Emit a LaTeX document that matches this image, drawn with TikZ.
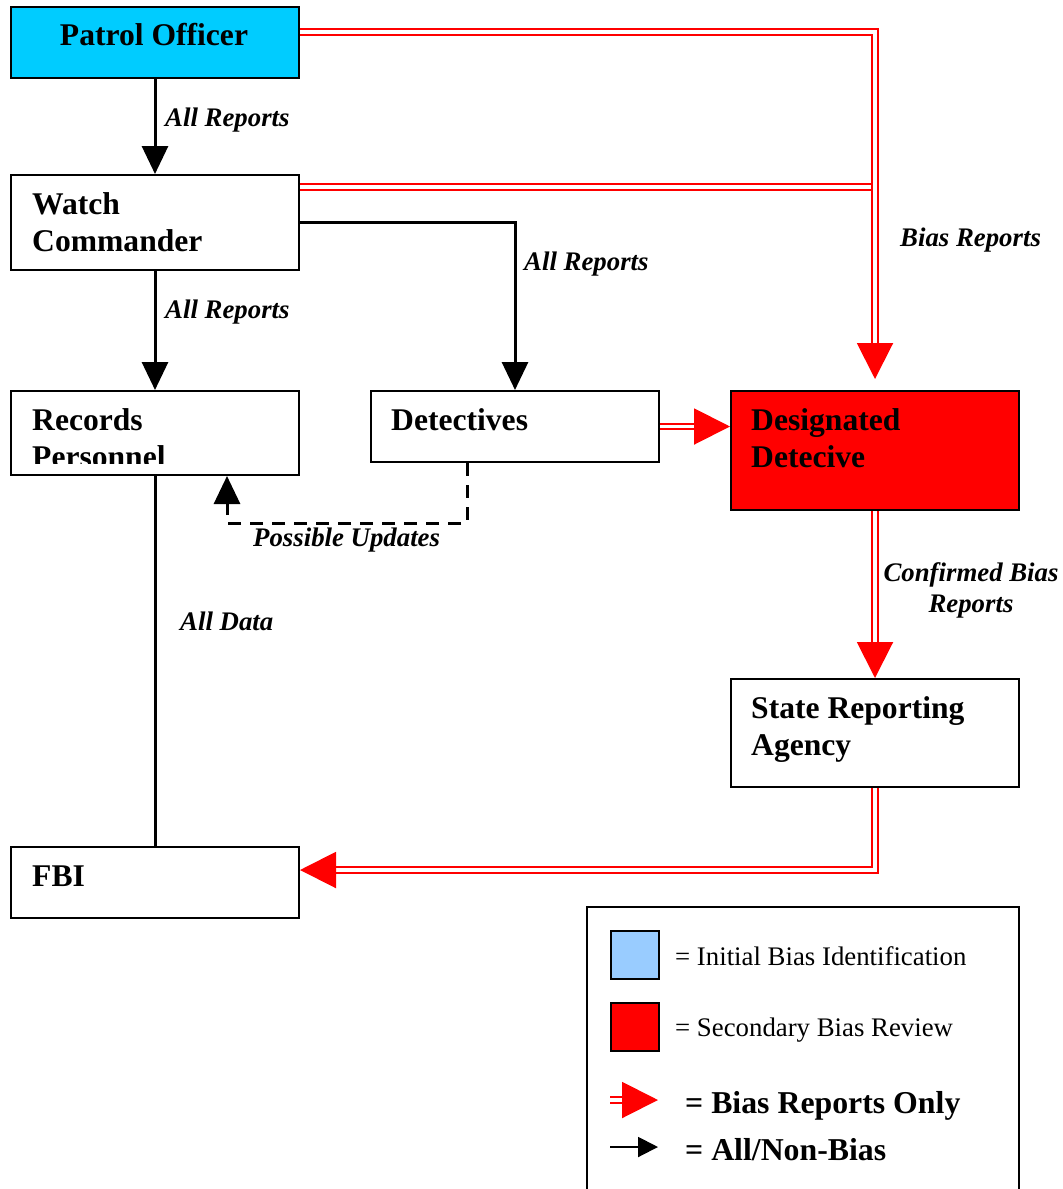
\documentclass[tikz,border=0pt]{standalone}
\usepackage{fontspec}
\setmainfont{Liberation Serif}
\usetikzlibrary{arrows.meta}
\definecolor{patrolcyan}{HTML}{00CCFF}
\definecolor{legendblue}{HTML}{99CCFF}

\begin{document}
\begin{tikzpicture}[x=1pt,y=-1pt,
  box/.style={draw=black, line width=2pt, rectangle, inner sep=0pt, anchor=north west},
  boxtext/.style={font=\bfseries\fontsize{31.6}{37}\selectfont, inner sep=0pt, align=left},
  flowlabel/.style={font=\bfseries\itshape\fontsize{26.8}{31}\selectfont, inner sep=0pt},
  legendtext/.style={font=\fontsize{26.8}{32}\selectfont, inner sep=0pt, anchor=base west},
  legendbold/.style={font=\bfseries\fontsize{31.8}{36}\selectfont, inner sep=0pt, anchor=base west},
  allflow/.style={draw=black, line width=3pt, -{Triangle[length=28pt,width=26pt]}},
  dashflow/.style={allflow, dash pattern=on 13pt off 9pt},
  biasflow/.style={draw=red, line width=2pt, double=white, double distance=3.5pt},
  biastip/.style={-{Triangle[length=36pt,width=36pt,fill=red,color=red]}},
]
\useasboundingbox (0,0) rectangle (1063,1189);

% ---- boxes ----
\node[box, fill=patrolcyan, minimum width=288, minimum height=71] (po) at (10,6) {};
\node[box, minimum width=288, minimum height=95] (wc) at (10,174) {};
\node[box, minimum width=288, minimum height=84] (rp) at (10,390) {};
\node[box, minimum width=288, minimum height=71] (det) at (370,390) {};
\node[box, fill=red, minimum width=288, minimum height=119] (dd) at (730,390) {};
\node[box, minimum width=288, minimum height=108] (sra) at (730,678) {};
\node[box, minimum width=288, minimum height=71] (fbi) at (10,846) {};

% ---- box texts ----
\node[boxtext, anchor=base] (potext) at (154,45.5) {Patrol Officer};
\node[boxtext, anchor=north west] (wctext) at (32,192.2) {Watch\\Commander};
\begin{scope}
  \clip (10,390) rectangle (298,463);
  \node[boxtext, anchor=north west] (rptext) at (32,408.7) {Records\\Personnel};
\end{scope}
\node[boxtext, anchor=base west] (dettext) at (391,430) {Detectives};
\node[boxtext, anchor=north west] (ddtext) at (751,408.7) {Designated\\Detecive};
\node[boxtext, anchor=north west] (sratext) at (751,696.7) {State Reporting\\Agency};
\node[boxtext, anchor=base west] (fbitext) at (32,886.5) {FBI};

% ---- all-report flows ----
\draw[allflow] (po.south) -- (wc.north);
\draw[allflow] (wc.south) -- (rp.north);
\draw[allflow] (wc.east) -| (det.north);
\draw[draw=black, line width=3pt] (rp.south) -- (fbi.north);
\draw[dashflow] ([xshift=-48pt]det.south) -- ++(0,60) -| ([xshift=72pt]rp.south);

% ---- bias-only flows ----
\coordinate (wcb) at ([yshift=35.5pt]wc.east);
\coordinate (pob) at ([yshift=10.5pt]po.east);
\coordinate (fbin) at ([yshift=12.5pt]fbi.east);
\draw[biasflow] (wcb) -- (wcb -| dd.north);
\draw[biasflow, biastip, shorten >=11pt] (pob) -| (dd.north);
\draw[biasflow, biastip] (det.east) -- (det.east -| dd.west);
\draw[biasflow, biastip] (dd.south) -- (sra.north);
\draw[biasflow, biastip] (sra.south) |- (fbin);

% ---- flow labels ----
\node[flowlabel, anchor=base west] (l1) at (165,126) {All Reports};
\node[flowlabel, anchor=base west] (l2) at (165,318) {All Reports};
\node[flowlabel, anchor=base west] (l3) at (524,270) {All Reports};
\node[flowlabel, anchor=base west] (l4) at (900,246) {Bias Reports};
\node[flowlabel, anchor=base west] (l5) at (253,546) {Possible Updates};
\node[flowlabel, anchor=base west] (l6) at (180,630) {All Data};
\node[flowlabel, anchor=north, align=center] (l7) at (971,562.8) {Confirmed Bias\\Reports};

% ---- legend ----
\node[box, minimum width=432, minimum height=300] (leg) at (586,906) {};
\node[box, fill=legendblue, minimum size=48] (swblue) at (610,930) {};
\node[box, fill=red, minimum size=48] (swred) at (610,1002) {};
\node[legendtext] (lt1) at (675,965) {= Initial Bias Identification};
\node[legendtext] (lt2) at (675,1036.7) {= Secondary Bias Review};
\coordinate (lra) at (610,1100);
\coordinate (lrb) at (658,1100);
\draw[biasflow, biastip] (lra) -- (lrb);
\coordinate (lba) at (610,1147);
\coordinate (lbb) at (658,1147);
\draw[draw=black, line width=2pt, -{Triangle[length=20pt,width=20pt]}] (lba) -- (lbb);
\node[legendbold] (lt3) at (685,1113) {= Bias Reports Only};
\node[legendbold] (lt4) at (685,1160) {= All/Non-Bias};
\end{tikzpicture}
\end{document}
